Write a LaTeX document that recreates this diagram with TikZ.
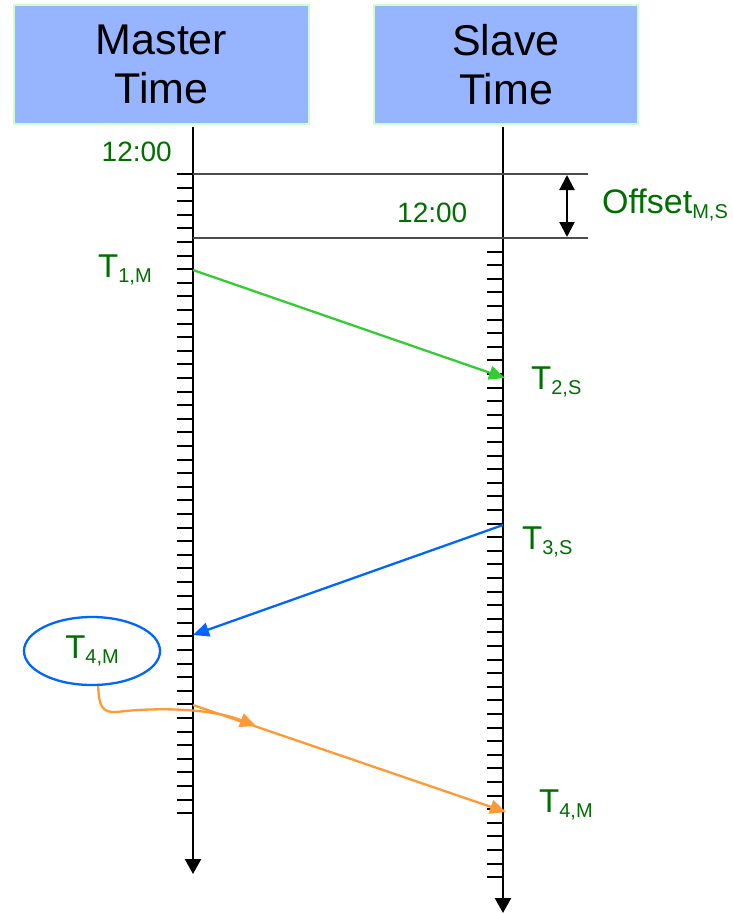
\documentclass[tikz,border=0pt]{standalone}
\usepackage{fontspec}
\setmainfont{Liberation Sans}
\usepackage{tikz}
\usetikzlibrary{shapes}
\usetikzlibrary{positioning}
\usetikzlibrary{arrows.meta}

\definecolor{boxblue}{RGB}{150,180,255}
\definecolor{boxedge}{RGB}{204,255,204}
\definecolor{labgreen}{RGB}{0,110,0}
\definecolor{msggreen}{RGB}{51,204,51}
\definecolor{msgblue}{RGB}{0,102,255}
\definecolor{msgorange}{RGB}{255,153,51}

\newcommand{\tsub}[1]{\raisebox{-5pt}{\fontsize{20}{21}\selectfont #1}}

\tikzset{
    clockbox/.style={rectangle, draw=boxedge, line width=2pt, fill=boxblue, minimum height=119pt, align=center, inner sep=0pt, font=\fontsize{43}{49}\selectfont},
    timelab/.style={text=labgreen, inner sep=0pt, font=\fontsize{33}{36}\selectfont},
    noonlab/.style={text=labgreen, inner sep=0pt, font=\fontsize{28}{30}\selectfont},
    axisline/.style={line width=2.4pt, -{Triangle[width=16pt,length=15pt]}},
    tickmark/.style={line width=2pt},
    refline/.style={line width=1.1pt, draw=black!70},
    msg/.style={line width=2.3pt, -{Triangle[width=14pt,length=16pt]}},
}

\begin{document}
\begin{tikzpicture}[x=1pt, y=-1pt]
    \useasboundingbox (0,0) rectangle (732,914);

    % clock headers
    \node[clockbox, minimum width=295pt] (mbox) at (161.5, 64.5) {Master\\Time};
    \node[clockbox, minimum width=264pt] (sbox) at (506, 64.5) {Slave\\Time};

    % time axes
    \coordinate (mtop) at (193,127);
    \coordinate (mend) at (193,874);
    \coordinate (stop) at (503,127);
    \coordinate (send) at (503,913);
    \draw[axisline] (mtop) -- (mend);
    \draw[axisline] (stop) -- (send);
    \foreach \i in {0,...,47} {
        \draw[tickmark] (177,{174+13.6*\i}) -- (192,{174+13.6*\i});
        \draw[tickmark] (487,{238+13.6*\i}) -- (502,{238+13.6*\i});
    }

    % offset between the two clocks
    \coordinate (mnoon) at (193,174);
    \coordinate (mnoonr) at (588,174);
    \coordinate (snoon) at (193,238);
    \coordinate (snoonr) at (588,238);
    \draw[refline] (mnoon) -- (mnoonr);
    \draw[refline] (snoon) -- (snoonr);
    \coordinate (offtop) at (567,175);
    \coordinate (offbot) at (567,237);
    \draw[line width=2.2pt, {Triangle[width=15pt,length=15pt]}-{Triangle[width=15pt,length=15pt]}] (offtop) -- (offbot);
    \node[timelab, font=\fontsize{34}{36}\selectfont, anchor=base west] (offlab) at (602,213) {Offset\tsub{M,S}};

    \node[noonlab, anchor=east] (mnoonlab) at (172,152) {12:00};
    \node[noonlab, anchor=west] (snoonlab) at (397,213) {12:00};

    % messages
    \coordinate (t1) at (193,270);
    \coordinate (t2) at (505,378);
    \coordinate (t3) at (503,525);
    \coordinate (t4) at (193,635);
    \coordinate (t5) at (193,705);
    \coordinate (t6) at (506,812);
    \draw[msg, msggreen] (t1) -- (t2);
    \draw[msg, msgblue] (t3) -- (t4);
    \draw[msg, msgorange] (t5) -- (t6);

    \node[timelab, anchor=base west] (t1lab) at (98,277) {T\tsub{1,M}};
    \node[timelab, anchor=base west] (t2lab) at (531,389) {T\tsub{2,S}};
    \node[timelab, anchor=base west] (t3lab) at (522,549) {T\tsub{3,S}};
    \node[timelab, anchor=base west] (t6lab) at (539,812) {T\tsub{4,M}};

    % T4 is stamped when the packet leaves again
    \node[ellipse, draw=msgblue, line width=2.3pt, minimum width=136pt, minimum height=68pt, inner sep=0pt, timelab] (t4ring) at (92,651) {T\tsub{4,M}};
    \coordinate (t4tip) at (256,726);
    \draw[msg, msgorange] (t4ring.-80) .. controls (99,712) and (105,714) .. (125,711) .. controls (170,707) and (215,710) .. (t4tip);
\end{tikzpicture}
\end{document}
